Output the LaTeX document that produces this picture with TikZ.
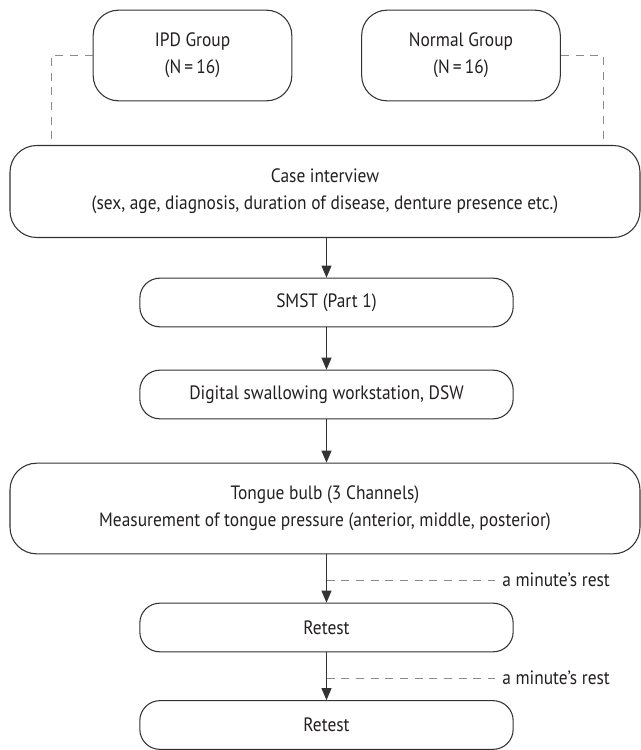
\documentclass[tikz,border=0pt]{standalone}
\usepackage{fontspec}
\setmainfont{PT Sans}[FakeStretch=0.9]
\usetikzlibrary{arrows.meta}
\definecolor{boxline}{HTML}{333333}
\definecolor{dashgray}{HTML}{8A8A8A}
\definecolor{txt}{HTML}{231F20}
\tikzset{
  txtfont/.style={text=txt, font=\fontsize{14.5}{20.3}\selectfont},
  bigbox/.style={draw=boxline, line width=0.8pt, rounded corners=20pt, minimum width=472.5pt, minimum height=69pt, align=center, txtfont},
  grpbox/.style={draw=boxline, line width=0.8pt, rounded corners=19pt, minimum width=149pt, minimum height=68pt, align=center, txtfont},
  smallbox/.style={draw=boxline, line width=0.8pt, rounded corners=15pt, minimum width=280pt, minimum height=36.5pt, align=center, txtfont},
  flowarrow/.style={draw=boxline, line width=0.8pt, -{Triangle[length=9pt, width=7.5pt]}},
  grpdash/.style={draw=dashgray, line width=0.7pt, dash pattern=on 6pt off 5pt},
  restlabel/.style={anchor=west, inner sep=0pt, txtfont}
}
\begin{document}
\begin{tikzpicture}[x=0.75pt,y=-0.75pt]
\useasboundingbox (0,0) rectangle (641,750);
\node[grpbox] (ipd) at (192.5,55.5) {IPD Group\\(N\,=\,16)};
\node[grpbox] (normal) at (461,55.5) {Normal Group\\(N\,=\,16)};
\node[bigbox] (case) at (325,191.5) {Case interview\\(sex, age, diagnosis, duration of disease, denture presence etc.)};
\node[smallbox] (smst) at (326.5,302.5) {SMST (Part 1)};
\node[smallbox] (dsw) at (326.5,394.5) {Digital swallowing workstation, DSW};
\node[bigbox, minimum height=68pt] (tongue) at (325,508.5) {Tongue bulb (3 Channels)\\Measurement of tongue pressure (anterior, middle, posterior)};
\node[smallbox] (re1) at (326.5,627.5) {Retest};
\node[smallbox] (re2) at (326.5,725) {Retest};
\coordinate (dl) at (51,0);
\coordinate (dr) at (603,0);
\draw[grpdash] (ipd.west) -| (case.north -| dl);
\draw[grpdash] (normal.east) -| (case.north -| dr);
\draw[flowarrow] (case.south -| smst.north) -- (smst.north);
\draw[flowarrow] (smst.south) -- (dsw.north);
\draw[flowarrow] (dsw.south) -- (tongue.north -| dsw.south);
\draw[flowarrow] (tongue.south -| re1.north) -- (re1.north);
\draw[flowarrow] (re1.south) -- (re2.north);
\node[restlabel] (rl1) at (502,580) {a minute’s rest};
\node[restlabel] (rl2) at (502,678) {a minute’s rest};
\coordinate (r1) at (326.5,580);
\coordinate (r2) at (326.5,678);
\draw[grpdash] (r1) -- ([xshift=-5pt]rl1.west);
\draw[grpdash] (r2) -- ([xshift=-5pt]rl2.west);
\end{tikzpicture}
\end{document}
